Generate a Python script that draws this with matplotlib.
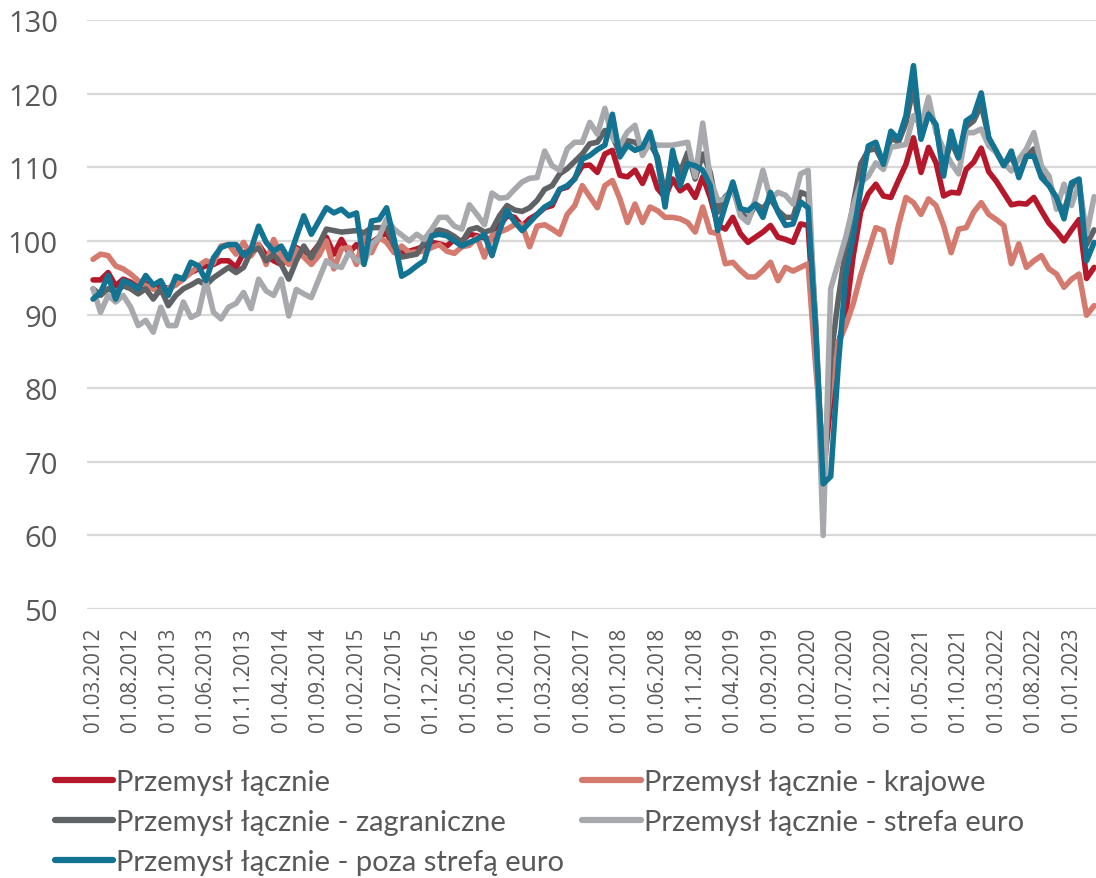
import pandas as pd
import matplotlib.pyplot as plt

plt.rcParams["font.family"] = "Open Sans"

# monthly index values, first month = 03.2012
start = "2012-03-01"

red = [94.7, 94.7, 95.7, 93.9, 94.8, 94.4, 93.7, 94.2, 93.5, 93.9,
       93.5, 94.2, 95.0, 95.7, 96.2, 96.6, 96.8, 97.3, 97.3, 96.4,
       98.4, 98.8, 99.5, 98.0, 97.3, 96.8, 97.5, 99.1, 98.5, 98.2,
       99.5, 100.5, 98.2, 100.2, 98.4, 99.5, 98.2, 99.8, 100.5, 101.1,
       99.1, 98.4, 98.6, 98.9, 99.3, 99.8, 99.6, 99.3, 100.2, 100.0,
       100.9, 100.7, 100.4, 100.2, 102.0, 103.4, 103.2, 102.0, 103.0, 103.6,
       104.5, 104.8, 107.0, 107.3, 108.5, 110.2, 110.3, 109.3, 111.8, 112.3,
       108.9, 108.7, 109.6, 107.8, 110.2, 107.1, 105.9, 108.4, 106.8, 107.5,
       105.9, 108.7, 105.9, 102.1, 101.6, 103.2, 101.0, 99.8, 100.5, 101.2,
       102.1, 100.5, 100.2, 99.8, 102.3, 102.1, 86.0, 68.0, 78.0, 86.0,
       90.0, 98.0, 104.0, 106.4, 107.7, 106.1, 105.9, 108.2, 110.4, 114.0,
       109.3, 112.7, 110.6, 106.1, 106.6, 106.5, 109.7, 110.7, 112.6, 109.4,
       108.1, 106.5, 104.9, 105.1, 105.0, 105.9, 104.1, 102.4, 101.3, 100.0,
       101.5, 102.9, 94.9, 96.4]

domestic = [97.5, 98.2, 98.0, 96.6, 96.2, 95.5, 94.6, 93.9, 93.5, 93.0,
            93.5, 94.0, 94.8, 95.7, 96.6, 97.3, 97.0, 99.3, 99.5, 98.2,
            99.8, 98.0, 99.5, 96.8, 100.2, 98.0, 96.8, 98.9, 97.8, 96.8,
            98.0, 100.0, 96.2, 98.9, 99.1, 96.8, 100.7, 98.4, 100.5, 99.8,
            98.4, 99.3, 98.4, 98.5, 98.6, 99.1, 99.5, 98.6, 98.3, 99.2,
            99.4, 100.5, 97.8, 100.7, 101.2, 101.6, 102.2, 102.2, 99.2, 102.0,
            102.2, 101.6, 100.9, 103.6, 104.8, 107.5, 106.0, 104.5, 107.5, 108.2,
            105.7, 102.5, 105.0, 102.5, 104.6, 104.1, 103.2, 103.2, 103.0, 102.5,
            101.2, 104.6, 101.2, 101.0, 96.9, 97.1, 96.0, 95.1, 95.1, 96.0,
            97.1, 94.6, 96.4, 95.9, 96.4, 96.9, 83.0, 71.0, 80.0, 86.0,
            88.5, 91.5, 95.4, 98.6, 101.8, 101.4, 97.1, 102.1, 105.9, 105.2,
            103.6, 105.7, 104.8, 102.1, 98.4, 101.6, 101.8, 103.9, 105.2, 103.6,
            102.9, 102.1, 96.9, 99.6, 96.4, 97.3, 98.0, 96.2, 95.5, 93.7,
            94.8, 95.5, 89.9, 91.2]

foreign = [93.5, 92.6, 93.5, 93.0, 93.9, 93.5, 92.8, 93.5, 92.1, 93.5,
           91.2, 92.6, 93.5, 94.0, 94.6, 94.0, 95.0, 95.7, 96.4, 95.7,
           96.4, 98.6, 99.0, 97.3, 98.2, 96.8, 94.8, 97.3, 99.3, 97.7,
           99.5, 101.6, 101.4, 101.2, 101.3, 101.4, 101.1, 101.8, 101.8, 101.8,
           99.3, 97.8, 98.0, 98.2, 99.8, 101.2, 101.5, 101.2, 100.6, 99.8,
           101.5, 101.8, 101.2, 101.5, 103.4, 104.8, 104.2, 104.0, 104.5, 105.5,
           107.0, 107.5, 109.1, 109.8, 110.8, 111.8, 113.2, 113.4, 115.0, 114.3,
           111.8, 113.6, 113.4, 112.5, 113.2, 111.4, 106.2, 111.6, 109.3, 112.0,
           108.4, 111.8, 109.3, 103.9, 106.0, 107.0, 104.1, 102.8, 105.0, 104.4,
           105.7, 104.1, 103.2, 103.2, 106.6, 106.2, 89.0, 66.5, 84.0, 92.0,
           99.0, 105.0, 110.5, 112.3, 112.5, 110.5, 114.0, 113.4, 116.0, 121.0,
           114.0, 117.5, 115.5, 110.0, 113.5, 111.2, 115.5, 116.3, 118.5, 114.0,
           112.0, 110.3, 111.5, 109.0, 111.5, 112.5, 109.0, 107.8, 105.5, 104.0,
           107.5, 108.0, 99.5, 101.5]

euro_zone = [93.5, 90.3, 92.6, 91.7, 92.6, 91.0, 88.5, 89.2, 87.6, 91.0,
             88.5, 88.5, 91.7, 89.6, 90.1, 94.6, 90.3, 89.4, 91.0, 91.5,
             93.0, 90.8, 94.8, 93.2, 92.6, 94.8, 89.8, 93.4, 92.8, 92.3,
             94.8, 97.3, 96.6, 96.4, 98.4, 97.4, 97.0, 99.5, 100.5, 103.0,
             101.6, 100.8, 100.0, 100.9, 100.2, 101.6, 103.2, 103.2, 102.0, 101.6,
             104.9, 103.6, 102.2, 106.5, 105.8, 105.9, 107.0, 108.0, 108.5, 108.6,
             112.2, 110.2, 109.6, 112.5, 113.4, 113.4, 116.1, 114.5, 118.0, 114.0,
             113.0, 114.8, 115.7, 111.6, 113.4, 113.0, 113.0, 113.0, 113.2, 113.4,
             108.7, 116.0, 108.4, 105.5, 105.7, 107.3, 103.4, 102.5, 105.7, 109.6,
             105.7, 106.6, 106.2, 105.0, 109.1, 109.6, 88.0, 60.0, 93.5, 97.0,
             100.5, 104.8, 107.9, 108.8, 110.6, 109.7, 112.7, 112.9, 113.1, 117.0,
             115.6, 119.5, 114.7, 112.5, 110.6, 109.1, 114.7, 114.7, 115.2, 112.9,
             112.0, 110.6, 109.5, 111.1, 112.5, 114.7, 110.2, 108.8, 104.3, 107.7,
             104.8, 107.9, 100.9, 106.0]

non_euro = [92.1, 93.0, 95.3, 92.1, 94.6, 94.2, 93.5, 95.3, 94.0, 94.6,
            92.6, 95.2, 94.8, 97.1, 96.6, 94.6, 97.7, 99.1, 99.5, 99.5,
            98.0, 98.9, 102.0, 99.8, 98.6, 99.3, 97.5, 100.5, 103.4, 100.9,
            102.7, 104.5, 103.8, 104.3, 103.4, 103.8, 96.8, 102.7, 102.9, 104.5,
            100.2, 95.2, 95.8, 96.6, 97.3, 100.7, 100.9, 100.7, 100.0, 99.3,
            99.8, 100.2, 100.9, 98.0, 101.4, 104.1, 102.6, 101.4, 102.5, 103.6,
            104.6, 105.2, 107.0, 107.5, 108.4, 111.1, 111.6, 112.4, 113.0, 117.2,
            111.4, 113.0, 112.3, 112.7, 114.8, 110.9, 104.6, 112.3, 107.5, 110.5,
            110.2, 109.6, 107.5, 101.4, 104.8, 108.0, 104.4, 104.1, 105.0, 103.2,
            106.6, 103.9, 102.1, 102.3, 105.3, 104.5, 88.0, 67.0, 68.0, 83.0,
            95.3, 100.7, 107.0, 112.9, 113.4, 110.4, 114.9, 113.8, 117.0, 123.8,
            113.8, 117.2, 115.8, 108.8, 114.9, 111.3, 116.3, 117.0, 120.1, 114.0,
            112.2, 110.2, 112.2, 108.6, 111.5, 111.5, 108.6, 107.5, 105.9, 103.0,
            107.9, 108.4, 97.3, 99.8]

labels = ["Przemysł łącznie", "Przemysł łącznie - krajowe",
          "Przemysł łącznie - zagraniczne", "Przemysł łącznie - strefa euro",
          "Przemysł łącznie - poza strefą euro"]
colors = ["#B5182B", "#D47A6E", "#5F6366", "#A7A9AC", "#127393"]

months = pd.date_range(start, periods=len(red), freq="MS")
x = list(range(len(months)))

fig = plt.figure(figsize=(10.96, 8.79), dpi=100)
ax = fig.add_axes([0.0794, 0.306, 0.9206, 0.6701])

for vals, lab, col in zip([red, domestic, foreign, euro_zone, non_euro], labels, colors):
    ax.plot(x, vals, color=col, lw=4.0, label=lab,
            solid_joinstyle="round", solid_capstyle="round")

ax.set_ylim(50, 130)
ax.set_yticks(range(50, 131, 10))
ax.set_xlim(-0.8, 133.25)
ax.set_xticks(x[::5])
ax.set_xticklabels(months[::5].strftime("%d.%m.%Y"), rotation=90)
ax.grid(axis="y", color="#D9D9D9", lw=1.6)
ax.set_axisbelow(True)
for s in ax.spines.values():
    s.set_visible(False)
ax.tick_params(axis="y", length=0, pad=21, labelsize=21, labelcolor="#595959")
ax.tick_params(axis="x", length=0, pad=13, labelsize=14.8, labelcolor="#595959")

# legend: row-wise order like the original
h, l = ax.get_legend_handles_labels()
order = [0, 2, 4, 1, 3]
leg = fig.legend([h[i] for i in order], [l[i] for i in order], ncol=2,
                 loc="upper left", bbox_to_anchor=(0.0502, 0.124),
                 bbox_transform=fig.transFigure, frameon=False,
                 prop={"family": "Lato", "size": 21},
                 labelcolor="#595959", handlelength=2.0, handletextpad=0.1,
                 columnspacing=0.62, labelspacing=0.48, borderpad=0, borderaxespad=0)
for line in leg.get_lines():
    line.set_linewidth(4.5)

fig.savefig("out.png", dpi=100)
